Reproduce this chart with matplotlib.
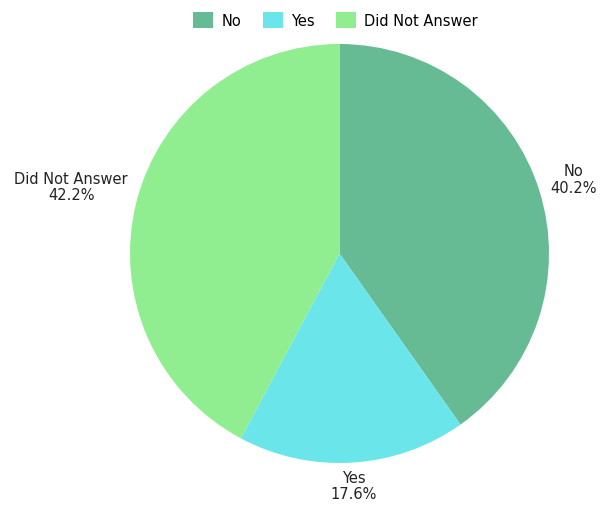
import numpy as np
import matplotlib
matplotlib.use("Agg")
import matplotlib.pyplot as plt

labels = ["No", "Yes", "Did Not Answer"]
values = [40.2, 17.6, 42.2]
colors = ["#66bb94", "#6ae5ea", "#90ee90"]
label_dist = [1.17, 1.11, 1.32]

plt.rcParams["font.family"] = ["DejaVu Sans"]

fig = plt.figure(figsize=(6.09, 5.06), dpi=100)
ax = fig.add_axes([130 / 609, 42 / 506, 419 / 609, 419 / 506])

wedges, _ = ax.pie(values, colors=colors, startangle=90, counterclock=False,
                   radius=1)
ax.set_xlim(-1, 1)
ax.set_ylim(-1, 1)
ax.set_aspect("equal")
ax.axis("off")

total = sum(values)
for w, lab, v, d in zip(wedges, labels, values, label_dist):
    ang = np.deg2rad((w.theta1 + w.theta2) / 2)
    ax.text(d * np.cos(ang), d * np.sin(ang), f"{lab}\n{v / total * 100:.1f}%",
            ha="center", va="center", fontsize=10.5, color="#222222",
            linespacing=1.15)

fig.legend(wedges, labels, loc="center", bbox_to_anchor=(335.5 / 609, 1 - 21 / 506),
           ncol=3, frameon=False, fontsize=10.5, handlelength=1.37,
           handleheight=1.37, handletextpad=0.55, columnspacing=1.5)

fig.savefig("out.png", dpi=100)
